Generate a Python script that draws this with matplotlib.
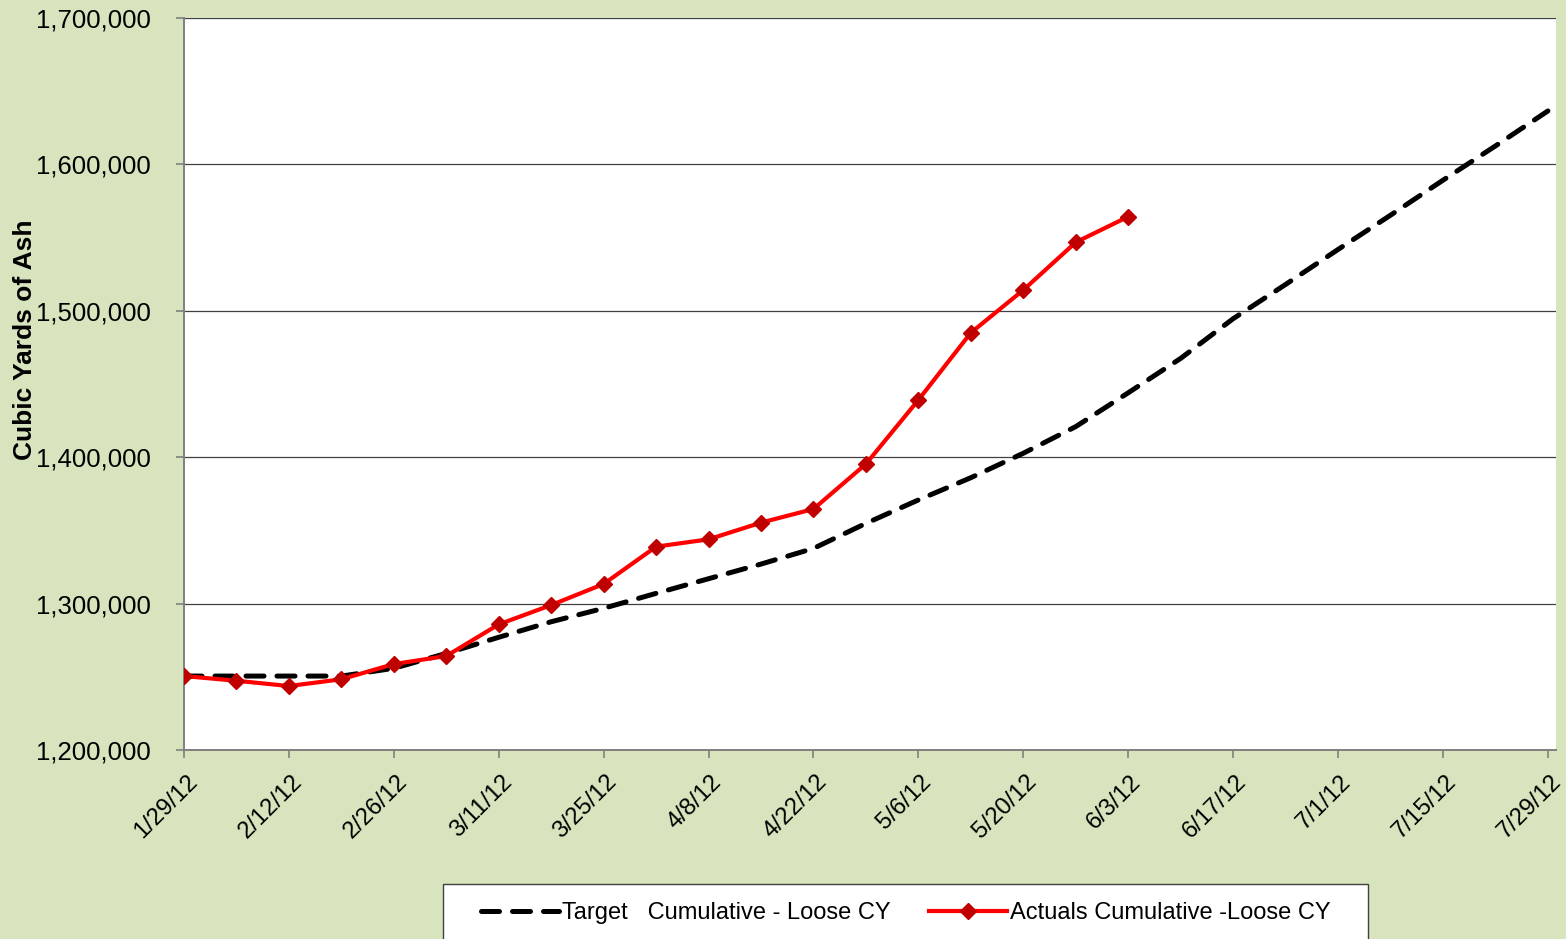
import matplotlib
matplotlib.use("Agg")
import matplotlib.pyplot as plt
import matplotlib.transforms as mtransforms
from matplotlib.patches import Rectangle
from matplotlib.ticker import FuncFormatter
import pandas as pd

plt.rcParams['font.family'] = ['Liberation Sans', 'DejaVu Sans']

# weekly target curve (cumulative loose CY)
target_dates = ["2012-01-29", "2012-02-05", "2012-02-12", "2012-02-19", "2012-02-26",
                "2012-03-04", "2012-03-11", "2012-03-18", "2012-03-25", "2012-04-01",
                "2012-04-08", "2012-04-15", "2012-04-22", "2012-04-29", "2012-05-06",
                "2012-05-13", "2012-05-20", "2012-05-27", "2012-06-03", "2012-06-10",
                "2012-06-17", "2012-06-24", "2012-07-01", "2012-07-08", "2012-07-15",
                "2012-07-22", "2012-07-29"]
target_values = [1250500, 1250500, 1250500, 1250500, 1255800,
                 1266000, 1277000, 1287600, 1296800, 1307000,
                 1317000, 1327000, 1337700, 1354800, 1370800,
                 1386000, 1402700, 1420900, 1444000, 1467500,
                 1494600, 1518000, 1541900, 1565300, 1589200,
                 1612600, 1636500]

# weekly actuals
actual_dates = target_dates[:19]
actual_values = [1250500, 1247300, 1243700, 1248300, 1258700,
                 1264200, 1285800, 1299000, 1313400, 1338900,
                 1343900, 1355300, 1364600, 1395400, 1439100,
                 1485000, 1514200, 1546800, 1564300]

tick_dates = ["2012-01-29", "2012-02-12", "2012-02-26", "2012-03-11", "2012-03-25",
              "2012-04-08", "2012-04-22", "2012-05-06", "2012-05-20", "2012-06-03",
              "2012-06-17", "2012-07-01", "2012-07-15", "2012-07-29"]
tick_labels = ["1/29/12", "2/12/12", "2/26/12", "3/11/12", "3/25/12", "4/8/12", "4/22/12",
               "5/6/12", "5/20/12", "6/3/12", "6/17/12", "7/1/12", "7/15/12", "7/29/12"]
y_ticks = [1200000, 1300000, 1400000, 1500000, 1600000, 1700000]

bg = '#D7E4BD'
axis_gray = '#808080'
W, H = 1566, 939

fig = plt.figure(figsize=(W / 100, H / 100), dpi=100, facecolor=bg)
ax = fig.add_axes([184 / W, 1 - 750 / H, (1556 - 184) / W, (750 - 18) / H])
ax.set_facecolor('white')

td = pd.to_datetime(target_dates)
ad = pd.to_datetime(actual_dates)

ax.plot(td, target_values, color='black', lw=3.6, linestyle=(0, (3.6, 2.6)),
        dash_capstyle='round', label='Target   Cumulative - Loose CY', zorder=3)
ax.plot(ad, actual_values, color='#FF0000', lw=3.0, marker='D', markersize=8,
        markerfacecolor='#C00000', markeredgecolor='#C00000',
        label='Actuals Cumulative -Loose CY', zorder=4)

ax.set_xlim(pd.Timestamp("2012-01-29"), pd.Timestamp("2012-07-30 02:00"))
ax.set_ylim(1200000, 1700000)
ax.set_yticks(y_ticks)
ax.yaxis.set_major_formatter(FuncFormatter(lambda v, p: f"{int(v):,}"))
ax.set_xticks(pd.to_datetime(tick_dates))
ax.set_xticklabels(tick_labels)

ax.grid(axis='y', color='#404040', lw=0.9)
ax.set_axisbelow(True)
for side in ['top', 'right']:
    ax.spines[side].set_visible(False)
for side in ['left', 'bottom']:
    ax.spines[side].set_color(axis_gray)
    ax.spines[side].set_linewidth(1.4)

ax.tick_params(axis='y', length=6, width=1.2, color=axis_gray, pad=18, labelsize=18.5)
ax.tick_params(axis='x', length=6, width=1.2, color=axis_gray, pad=9, labelsize=17.2)

offset = mtransforms.ScaledTranslation(2 / 100, 0, fig.dpi_scale_trans)
for lab in ax.get_xticklabels():
    lab.set_rotation(45)
    lab.set_ha('right')
    lab.set_va('top')
    lab.set_rotation_mode('anchor')
    lab.set_transform(lab.get_transform() + offset)

fig.text(25 / W, 1 - 340 / H, 'Cubic Yards of Ash', rotation=90, fontsize=19,
         fontweight='bold', ha='center', va='center')

# legend box, partly below the figure edge like the original
fig.patches.append(Rectangle((443 / W, 1 - 950 / H), (1368 - 443) / W, (950 - 884) / H,
                             transform=fig.transFigure, facecolor='white',
                             edgecolor='#404040', lw=1.0, zorder=1))
leg = fig.legend(loc='center', bbox_to_anchor=(906 / W, 1 - 913 / H),
                 ncol=2, fontsize=17, frameon=False,
                 handlelength=3.3, columnspacing=1.6, handletextpad=0.15,
                 borderpad=0, borderaxespad=0)
leg.set_zorder(2)

fig.savefig('out.png', dpi=100, facecolor=bg)
